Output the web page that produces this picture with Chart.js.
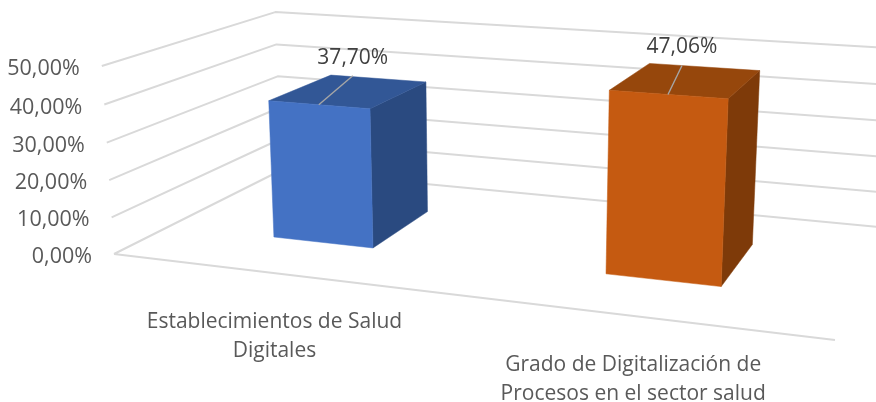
<!DOCTYPE html>
<html>
<head>
<meta charset="utf-8">
<script src="https://cdn.jsdelivr.net/npm/chart.js@4"></script>
<style>
    html, body { margin: 0; padding: 0; background: #fff; overflow: hidden; }
    canvas { display: block; }
</style>
</head>
<body>
<canvas id="chart1" width="876" height="402"></canvas>
<script>
const categories = [
    ['Establecimientos de Salud', 'Digitales'],
    ['Grado de Digitalización de', 'Procesos en el sector salud']
]
const values = [37.70, 47.06]
const yTicks = [0, 10, 20, 30, 40, 50]
const yTickLabels = ['0,00%', '10,00%', '20,00%', '30,00%', '40,00%', '50,00%']
const valueLabels = ['37,70%', '47,06%']

// face colours of each column: front, top, side
const barFaces = [
    ['#4472c4', '#325796', '#2a4a80'],
    ['#c55a11', '#96470c', '#7e3a09']
]

// the perspective of the 3D box: vanishing points and origin
const vpWidth = [-4030, -240], vpDepth = [1119, -250], vpHeight = [500, 6200], origin = [114, 254]
const kWidth = -0.1482, kDepth = 0.1993, kHeight = -0.03065
const barDepth = [0.3, 0.7]
const labelDx = [34, 14]

function project(u, v, w){
    const a = kWidth * u, b = kDepth * v, c = kHeight * w
    const d = a + b + c + 1
    return [
        (a * vpWidth[0] + b * vpDepth[0] + c * vpHeight[0] + origin[0]) / d,
        (a * vpWidth[1] + b * vpDepth[1] + c * vpHeight[1] + origin[1]) / d
    ]
}

function poly(ctx, pts, color){
    ctx.beginPath()
    pts.forEach((p, i) => i ? ctx.lineTo(p[0], p[1]) : ctx.moveTo(p[0], p[1]))
    ctx.closePath()
    ctx.fillStyle = color
    ctx.strokeStyle = color
    ctx.lineWidth = 0.5
    ctx.fill()
    ctx.stroke()
}

const box3d = {
    id: 'box3d',
    afterDatasetsDraw(chart){
        const ctx = chart.ctx
        const area = chart.chartArea
        const x = chart.scales.x, y = chart.scales.y
        const toU = px => (px - area.left) / area.width
        const toW = v => (area.bottom - y.getPixelForValue(v)) / area.height

        ctx.save()

        // walls and floor
        ctx.strokeStyle = '#d9d9d9'
        ctx.lineWidth = 2
        ctx.lineJoin = 'round'
        yTicks.forEach(t => {
            const w = toW(t)
            const a = project(0, 0, w), b = project(0, 1, w), c = project(1, 1, w)
            ctx.beginPath()
            ctx.moveTo(a[0], a[1])
            ctx.lineTo(b[0], b[1])
            ctx.lineTo(c[0], c[1])
            if (t === 0){
                ctx.moveTo(a[0], a[1])
                const e = project(1, 0, 0)
                ctx.lineTo(e[0], e[1])
            }
            ctx.stroke()
        })

        // columns
        const bars = chart.getDatasetMeta(0).data
        bars.forEach((bar, i) => {
            const u0 = toU(bar.x - bar.width / 2), u1 = toU(bar.x + bar.width / 2)
            const w = toW(values[i])
            const v0 = barDepth[0], v1 = barDepth[1]
            poly(ctx, [project(u1, v0, 0), project(u1, v1, 0), project(u1, v1, w), project(u1, v0, w)], barFaces[i][2])
            poly(ctx, [project(u0, v0, w), project(u1, v0, w), project(u1, v1, w), project(u0, v1, w)], barFaces[i][1])
            poly(ctx, [project(u0, v0, 0), project(u1, v0, 0), project(u1, v0, w), project(u0, v0, w)], barFaces[i][0])
        })

        // value labels with their leader lines
        ctx.textAlign = 'center'
        ctx.textBaseline = 'middle'
        bars.forEach((bar, i) => {
            const p = project(toU(bar.x), barDepth[0], toW(values[i]))
            const lx = p[0] + labelDx[i], ly = p[1] - 47
            ctx.strokeStyle = '#a6a6a6'
            ctx.lineWidth = 1.4
            ctx.beginPath()
            ctx.moveTo(p[0], p[1])
            ctx.lineTo(lx, ly + 18)
            ctx.stroke()
            ctx.fillStyle = '#404040'
            ctx.font = '21px "Open Sans"'
            ctx.fillText(valueLabels[i], lx, ly)
        })

        // axis labels
        ctx.fillStyle = '#595959'
        ctx.textAlign = 'right'
        ctx.font = '21.5px "Open Sans"'
        yTicks.forEach((t, i) => {
            const p = project(0, 0, toW(t))
            ctx.fillText(yTickLabels[i], p[0] - 22, p[1] + 3)
        })
        ctx.textAlign = 'center'
        ctx.font = '21px "Open Sans"'
        categories.forEach((lines, i) => {
            const p = project(toU(x.getPixelForValue(i)), 0, 0)
            lines.forEach((line, n) => ctx.fillText(line, p[0] + 1, p[1] + 49 + n * 29))
        })

        ctx.restore()
    }
}

const config = {
    type: 'bar',
    data: {
        labels: categories,
        datasets: [{
            data: values,
            backgroundColor: 'transparent',
            barPercentage: 0.314,
            categoryPercentage: 1
        }]
    },
    options: {
        responsive: false,
        animation: false,
        layout: { padding: 0 },
        plugins: { legend: { display: false }, tooltip: { enabled: false } },
        scales: {
            x: { display: false },
            y: {
                display: false,
                min: yTicks[0],
                max: yTicks[yTicks.length - 1],
                ticks: { stepSize: 10 }
            }
        }
    },
    plugins: [box3d]
}

const chart1 = new Chart(document.getElementById('chart1').getContext('2d'), config)
</script>
</body>
</html>
